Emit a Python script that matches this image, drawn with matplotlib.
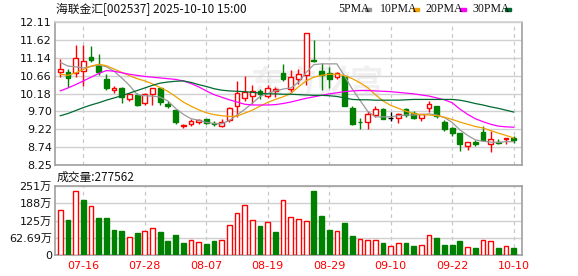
import numpy as np
import matplotlib
matplotlib.use('Agg')
import matplotlib.pyplot as plt
from matplotlib import patches

plt.rcParams['font.family'] = ['DejaVu Sans', 'Noto Sans CJK SC']

# trading days shown on the chart
dates = ['07-11', '07-14', '07-15', '07-16', '07-17', '07-18', '07-21', '07-22', '07-23', '07-24',
         '07-25', '07-28', '07-29', '07-30', '07-31', '08-01', '08-04', '08-05', '08-06', '08-07',
         '08-08', '08-11', '08-12', '08-13', '08-14', '08-15', '08-18', '08-19', '08-20', '08-21',
         '08-22', '08-25', '08-26', '08-27', '08-28', '08-29', '09-01', '09-02', '09-03', '09-04',
         '09-05', '09-08', '09-09', '09-10', '09-11', '09-12', '09-15', '09-16', '09-17', '09-18',
         '09-19', '09-22', '09-23', '09-24', '09-25', '09-26', '09-29', '09-30', '10-09', '10-10']

opens = [10.77, 10.76, 10.74, 10.80, 11.16, 10.95, 10.57, 10.28, 10.32, 10.03,
         10.15, 9.92, 10.16, 10.34, 9.90, 9.73, 9.29, 9.35, 9.40, 9.48,
         9.38, 9.30, 9.46, 9.84, 10.05, 10.12, 10.24, 10.11, 10.26, 10.74,
         10.30, 10.56, 10.67, 11.09, 10.80, 10.73, 10.62, 10.65, 9.80, 9.41,
         9.40, 9.61, 9.75, 9.52, 9.51, 9.77, 9.66, 9.51, 9.78, 9.83,
         9.40, 9.25, 9.11, 8.75, 8.87, 9.13, 8.81, 8.87, 8.94, 8.97]
highs = [11.11, 10.83, 11.49, 11.49, 11.46, 11.25, 10.71, 10.38, 10.35, 10.19,
         10.19, 10.20, 10.33, 10.36, 9.97, 9.73, 9.35, 9.49, 9.50, 9.49,
         9.45, 9.48, 9.82, 10.52, 10.65, 10.41, 10.30, 10.41, 10.36, 10.98,
         10.81, 10.84, 11.80, 11.62, 10.99, 10.90, 10.75, 10.66, 9.84, 9.53,
         9.71, 9.84, 9.78, 9.67, 9.66, 9.80, 9.72, 9.64, 9.98, 9.84,
         9.46, 9.28, 9.12, 8.86, 8.92, 9.30, 9.17, 8.94, 8.99, 9.03]
lows = [10.62, 10.36, 10.63, 10.38, 11.04, 10.68, 10.27, 10.20, 9.93, 9.98,
        9.83, 9.88, 9.88, 9.88, 9.79, 9.37, 9.24, 9.31, 9.35, 9.36,
        9.30, 9.27, 9.40, 9.55, 9.98, 9.90, 10.03, 10.07, 10.09, 10.52,
        10.23, 10.43, 10.40, 11.04, 10.27, 10.32, 10.57, 9.83, 9.33, 9.22,
        9.21, 9.54, 9.48, 9.43, 9.38, 9.55, 9.50, 9.44, 9.69, 9.53,
        9.17, 9.03, 8.64, 8.66, 8.76, 8.91, 8.59, 8.83, 8.82, 8.84]
closes = [10.83, 10.59, 11.13, 11.05, 11.08, 10.77, 10.34, 10.32, 10.09, 10.16,
          9.86, 10.17, 10.33, 9.95, 9.83, 9.42, 9.32, 9.44, 9.46, 9.38,
          9.35, 9.42, 9.80, 10.19, 10.22, 10.24, 10.16, 10.32, 10.30, 10.56,
          10.62, 10.70, 11.80, 11.06, 10.68, 10.57, 10.72, 9.83, 9.36, 9.40,
          9.62, 9.75, 9.50, 9.52, 9.62, 9.60, 9.51, 9.62, 9.90, 9.57,
          9.21, 9.12, 8.82, 8.86, 8.83, 8.92, 8.95, 8.85, 8.98, 8.92]

# volume in units of 10k shares (万)
volumes = [164, 128, 233, 200, 177, 135, 135, 92, 88, 65,
           80, 87, 98, 84, 52, 74, 45, 54, 47, 41,
           52, 55, 108, 152, 181, 128, 106, 121, 84, 199,
           137, 130, 124, 233, 142, 92, 88, 117, 70, 59,
           55, 55, 45, 33, 43, 45, 34, 36, 72, 63,
           37, 37, 52, 29, 27, 55, 52, 27, 33, 27.7562]
# 1 = close above previous close (red), 0 = below (green)
vol_up = [1, 0, 1, 0, 1, 0, 0, 0, 0, 1,
          0, 1, 1, 0, 0, 0, 0, 1, 1, 0,
          0, 1, 1, 1, 1, 1, 0, 1, 0, 1,
          1, 1, 1, 0, 0, 0, 1, 0, 0, 1,
          1, 1, 0, 1, 1, 0, 0, 1, 1, 0,
          0, 0, 0, 1, 0, 1, 1, 0, 1, 0]

ma5 = [11.02, 10.92, 10.90, 10.87, 10.91, 10.95, 10.90, 10.78, 10.60, 10.40,
       10.15, 10.12, 10.11, 10.08, 9.98, 9.78, 9.62, 9.50, 9.46, 9.40,
       9.37, 9.36, 9.45, 9.60, 9.75, 9.92, 10.10, 10.18, 10.25, 10.30,
       10.33, 10.48, 10.75, 10.96, 10.98, 10.98, 10.98, 10.65, 10.30, 10.00,
       9.70, 9.55, 9.55, 9.55, 9.58, 9.60, 9.60, 9.61, 9.63, 9.60,
       9.53, 9.40, 9.20, 9.05, 8.93, 8.89, 8.87, 8.86, 8.88, 8.88]
ma10 = [10.70, 10.67, 10.74, 10.83, 10.92, 10.97, 10.93, 10.84, 10.75, 10.66,
        10.58, 10.52, 10.44, 10.34, 10.24, 10.10, 9.95, 9.84, 9.74, 9.66,
        9.61, 9.58, 9.56, 9.57, 9.65, 9.73, 9.84, 9.94, 10.02, 10.09,
        10.18, 10.36, 10.52, 10.62, 10.67, 10.70, 10.70, 10.66, 10.58, 10.47,
        10.34, 10.15, 9.98, 9.86, 9.78, 9.70, 9.64, 9.61, 9.60, 9.58,
        9.54, 9.48, 9.41, 9.35, 9.29, 9.25, 9.18, 9.11, 9.05, 8.98]
ma20 = [10.25, 10.33, 10.42, 10.52, 10.62, 10.72, 10.80, 10.78, 10.74, 10.70,
        10.67, 10.64, 10.62, 10.60, 10.58, 10.56, 10.52, 10.45, 10.36, 10.25,
        10.15, 10.08, 10.01, 9.95, 9.89, 9.87, 9.87, 9.87, 9.88, 9.91,
        9.95, 10.00, 10.05, 10.09, 10.13, 10.17, 10.20, 10.23, 10.25, 10.26,
        10.26, 10.25, 10.24, 10.23, 10.21, 10.19, 10.17, 10.14, 10.11, 10.06,
        10.01, 9.93, 9.76, 9.62, 9.50, 9.42, 9.35, 9.30, 9.28, 9.27]
ma30 = [9.58, 9.64, 9.72, 9.80, 9.87, 9.93, 10.00, 10.06, 10.12, 10.19,
        10.26, 10.33, 10.40, 10.46, 10.49, 10.51, 10.52, 10.48, 10.42, 10.37,
        10.31, 10.27, 10.25, 10.24, 10.23, 10.21, 10.19, 10.17, 10.17, 10.16,
        10.16, 10.15, 10.14, 10.13, 10.13, 10.12, 10.10, 10.06, 10.02, 10.01,
        10.01, 10.00, 10.00, 10.00, 10.00, 10.01, 10.02, 10.02, 10.02, 10.02,
        10.02, 10.02, 10.00, 9.96, 9.91, 9.87, 9.82, 9.78, 9.73, 9.68]

date_ticks = ['07-16', '07-28', '08-07', '08-19', '08-29', '09-10', '09-22', '10-10']
price_labels = ['8.25', '8.74', '9.22', '9.70', '10.18', '10.66', '11.14', '11.62', '12.11']
vol_labels = ['0', '62.69万', '125万', '188万', '251万']

RED = '#ff0000'
GREEN = '#008000'
GRID = '#d0d0d0'
FRAME = '#a0a0a0'
W, H = 578, 276

fig = plt.figure(figsize=(W / 100, H / 100), dpi=100)
left = 55.3 / W
width = (522.3 - 55.3) / W
ax = fig.add_axes([left, 1 - 165 / H, width, (165 - 22) / H])
axv = fig.add_axes([left, 1 - 255.3 / H, width, (255.3 - 186) / H])

x = np.arange(len(dates))
bw = 0.62
tick_pos = [dates.index(d) for d in date_ticks]

#candles
for i in x:
    o, h, l, c = opens[i], highs[i], lows[i], closes[i]
    if c > o:
        col, fc = RED, 'white'
    elif c < o:
        col, fc = GREEN, GREEN
    else:
        col, fc = 'black', 'black'
    ax.vlines(i, l, h, color=col, lw=1, zorder=3)
    if c != o:
        ax.add_patch(patches.Rectangle((i - bw / 2, min(o, c)), bw, abs(c - o), facecolor=fc,
                                       edgecolor=col, lw=1, zorder=4))
    else:
        ax.hlines(o, i - bw / 2, i + bw / 2, color=col, lw=1, zorder=4)

# moving averages
ax.plot(x, ma5, color='#999999', lw=0.9, zorder=5)
ax.plot(x, ma10, color='#f0a000', lw=0.9, zorder=5)
ax.plot(x, ma20, color='#ff00ff', lw=0.9, zorder=5)
ax.plot(x, ma30, color='#006a30', lw=0.9, zorder=5)

# watermark
ax.text(0.56, 0.56, '东方财富', transform=ax.transAxes, fontsize=24, color='#f0f0f0',
        ha='center', va='center', family=['Noto Sans CJK SC'], fontweight='bold', zorder=0)

# volume bars
vcol = [RED if u else GREEN for u in vol_up]
vfc = ['white' if u else GREEN for u in vol_up]
axv.bar(x, volumes, width=bw, color=vfc, edgecolor=vcol, lw=1, zorder=3)

for a in (ax, axv):
    a.set_xlim(-0.65, len(x) - 1 + 1.13)
    a.set_xticks(tick_pos)
    a.grid(axis='x', color='#c8c8c8', linestyle=(0, (3, 3)), lw=0.9, zorder=0)
    a.grid(axis='y', color=GRID, linestyle='-', lw=1, zorder=0)
    a.tick_params(length=0, labelsize=8, pad=2.5, colors='#111111')
    for s in a.spines.values():
        s.set_color(FRAME)
        s.set_linewidth(1.2)
    a.set_axisbelow(True)

ax.set_ylim(8.25, 12.11)
ax.set_yticks(np.linspace(8.25, 12.11, 9))
ax.set_yticklabels(price_labels)
ax.set_xticklabels([])
ax.spines['top'].set_color(GRID)

vmax = 250.76
axv.set_ylim(0, vmax)
axv.set_yticks(np.linspace(0, vmax, 5))
axv.set_yticklabels(vol_labels)
axv.set_xticklabels(date_ticks, color=RED)
axv.tick_params(axis='x', pad=4)

# header texts
fig.text(55.5 / W, 1 - 9.5 / H, '海联金汇[002537] 2025-10-10 15:00', fontsize=8.5,
         family=['Noto Sans CJK SC', 'DejaVu Sans'], va='center', ha='left', color='#111111')
fig.text(57 / W, 1 - 177.5 / H, '成交量:277562', fontsize=8.5,
         family=['Noto Sans CJK SC', 'DejaVu Sans'], va='center', ha='left', color='#111111')

legend = [('5PMA', '#999999', 338, 365), ('10PMA', '#f0a000', 380, 413),
          ('20PMA', '#ff00ff', 426, 460), ('30PMA', '#006a30', 472, 505)]
for name, c, tx, sx in legend:
    fig.text(tx / W, 1 - 9.5 / H, name, fontsize=8.5, family=['Liberation Serif'],
             va='center', ha='left', color='#111111')
    fig.patches.append(patches.Rectangle((sx / W, 1 - 10.5 / H), 6 / W, 2.2 / H,
                                         transform=fig.transFigure, color=c))

fig.savefig('out.png', dpi=100)
